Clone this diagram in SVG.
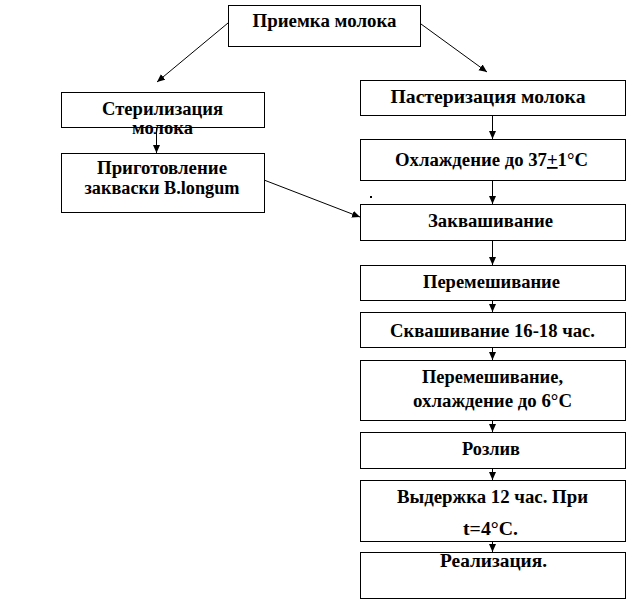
<svg xmlns="http://www.w3.org/2000/svg" width="636" height="601" viewBox="0 0 636 601">
<style>
.box{fill:#fff;stroke:#000;stroke-width:1}
.t{font-family:"Liberation Serif","Times New Roman",serif;font-weight:bold;font-size:18px;fill:#000;text-anchor:middle}
.c{stroke:#000;stroke-width:1;fill:none}
</style>
<defs>
<marker id="ah" markerUnits="userSpaceOnUse" markerWidth="9" markerHeight="8" refX="8" refY="3.5" orient="auto">
<path d="M0,0 L8,3.5 L0,7 z" fill="#000"/>
</marker>
</defs>
<rect width="636" height="601" fill="#fff"/>
<g id="connectors">
<line class="c" x1="228" y1="23" x2="157" y2="82" marker-end="url(#ah)"/>
<line class="c" x1="421" y1="24" x2="487" y2="72" marker-end="url(#ah)"/>
<line class="c" x1="264" y1="180" x2="360" y2="217" marker-end="url(#ah)"/>
<line class="c" x1="156.5" y1="127" x2="156.5" y2="153" marker-end="url(#ah)"/>
<line class="c" x1="492.5" y1="115" x2="492.5" y2="139" marker-end="url(#ah)"/>
<line class="c" x1="492.5" y1="180" x2="492.5" y2="204" marker-end="url(#ah)"/>
<line class="c" x1="492.5" y1="240" x2="492.5" y2="265" marker-end="url(#ah)"/>
<line class="c" x1="492.5" y1="300" x2="492.5" y2="312" marker-end="url(#ah)"/>
<line class="c" x1="492.5" y1="347" x2="492.5" y2="360" marker-end="url(#ah)"/>
<line class="c" x1="492.5" y1="420" x2="492.5" y2="432" marker-end="url(#ah)"/>
<line class="c" x1="492.5" y1="468" x2="492.5" y2="480" marker-end="url(#ah)"/>
<line class="c" x1="492.5" y1="541" x2="492.5" y2="552" marker-end="url(#ah)"/>
</g>
<rect x="370" y="196" width="2" height="2" fill="#000"/>
<g id="n_priemka">
<rect class="box" x="228.5" y="5.5" width="192" height="41"/>
<text class="t" x="324.5" y="27" textLength="144" lengthAdjust="spacingAndGlyphs">Приемка молока</text>
</g>
<g id="n_steril">
<rect class="box" x="61.5" y="92.5" width="203" height="35"/>
<text class="t" x="162.5" y="115" textLength="121" lengthAdjust="spacingAndGlyphs">Стерилизация</text>
<text class="t" x="162.5" y="134" textLength="61" lengthAdjust="spacingAndGlyphs">молока</text>
</g>
<g id="n_prigot">
<rect class="box" x="61.5" y="153.5" width="203" height="59"/>
<text class="t" x="162" y="174" textLength="130" lengthAdjust="spacingAndGlyphs">Приготовление</text>
<text class="t" x="162" y="194" textLength="155" lengthAdjust="spacingAndGlyphs">закваски B.longum</text>
</g>
<g id="n_paster">
<rect class="box" x="360.5" y="80.5" width="265" height="35"/>
<text class="t" x="488" y="103" textLength="195" lengthAdjust="spacingAndGlyphs">Пастеризация молока</text>
</g>
<g id="n_ohlazh">
<rect class="box" x="360.5" y="139.5" width="265" height="41"/>
<text class="t" x="491.5" y="166" textLength="193" lengthAdjust="spacingAndGlyphs">Охлаждение до 37<tspan text-decoration="underline">+</tspan>1°С</text>
</g>
<g id="n_zakvash">
<rect class="box" x="360.5" y="204.5" width="265" height="36"/>
<text class="t" x="490.5" y="227" textLength="125" lengthAdjust="spacingAndGlyphs">Заквашивание</text>
</g>
<g id="n_peremesh1">
<rect class="box" x="360.5" y="265.5" width="265" height="35"/>
<text class="t" x="491.5" y="288" textLength="137" lengthAdjust="spacingAndGlyphs">Перемешивание</text>
</g>
<g id="n_skvash">
<rect class="box" x="360.5" y="312.5" width="265" height="35"/>
<text class="t" x="492.5" y="337" textLength="205" lengthAdjust="spacingAndGlyphs">Сквашивание 16-18 час.</text>
</g>
<g id="n_peremesh2">
<rect class="box" x="360.5" y="360.5" width="265" height="60"/>
<text class="t" x="492.5" y="383" textLength="141" lengthAdjust="spacingAndGlyphs">Перемешивание,</text>
<text class="t" x="492.5" y="407" textLength="159" lengthAdjust="spacingAndGlyphs">охлаждение до 6°С</text>
</g>
<g id="n_rozliv">
<rect class="box" x="360.5" y="432.5" width="265" height="36"/>
<text class="t" x="491" y="455" textLength="58" lengthAdjust="spacingAndGlyphs">Розлив</text>
</g>
<g id="n_vyderzhka">
<rect class="box" x="360.5" y="480.5" width="265" height="61"/>
<text class="t" x="492.5" y="503" textLength="191" lengthAdjust="spacingAndGlyphs">Выдержка 12 час. При</text>
<text class="t" x="490.5" y="535" textLength="55" lengthAdjust="spacingAndGlyphs">t=4°С.</text>
</g>
<g id="n_realiz">
<rect class="box" x="360.5" y="552.5" width="265" height="46"/>
<text class="t" x="493.5" y="567" textLength="107" lengthAdjust="spacingAndGlyphs">Реализация.</text>
</g>
</svg>
